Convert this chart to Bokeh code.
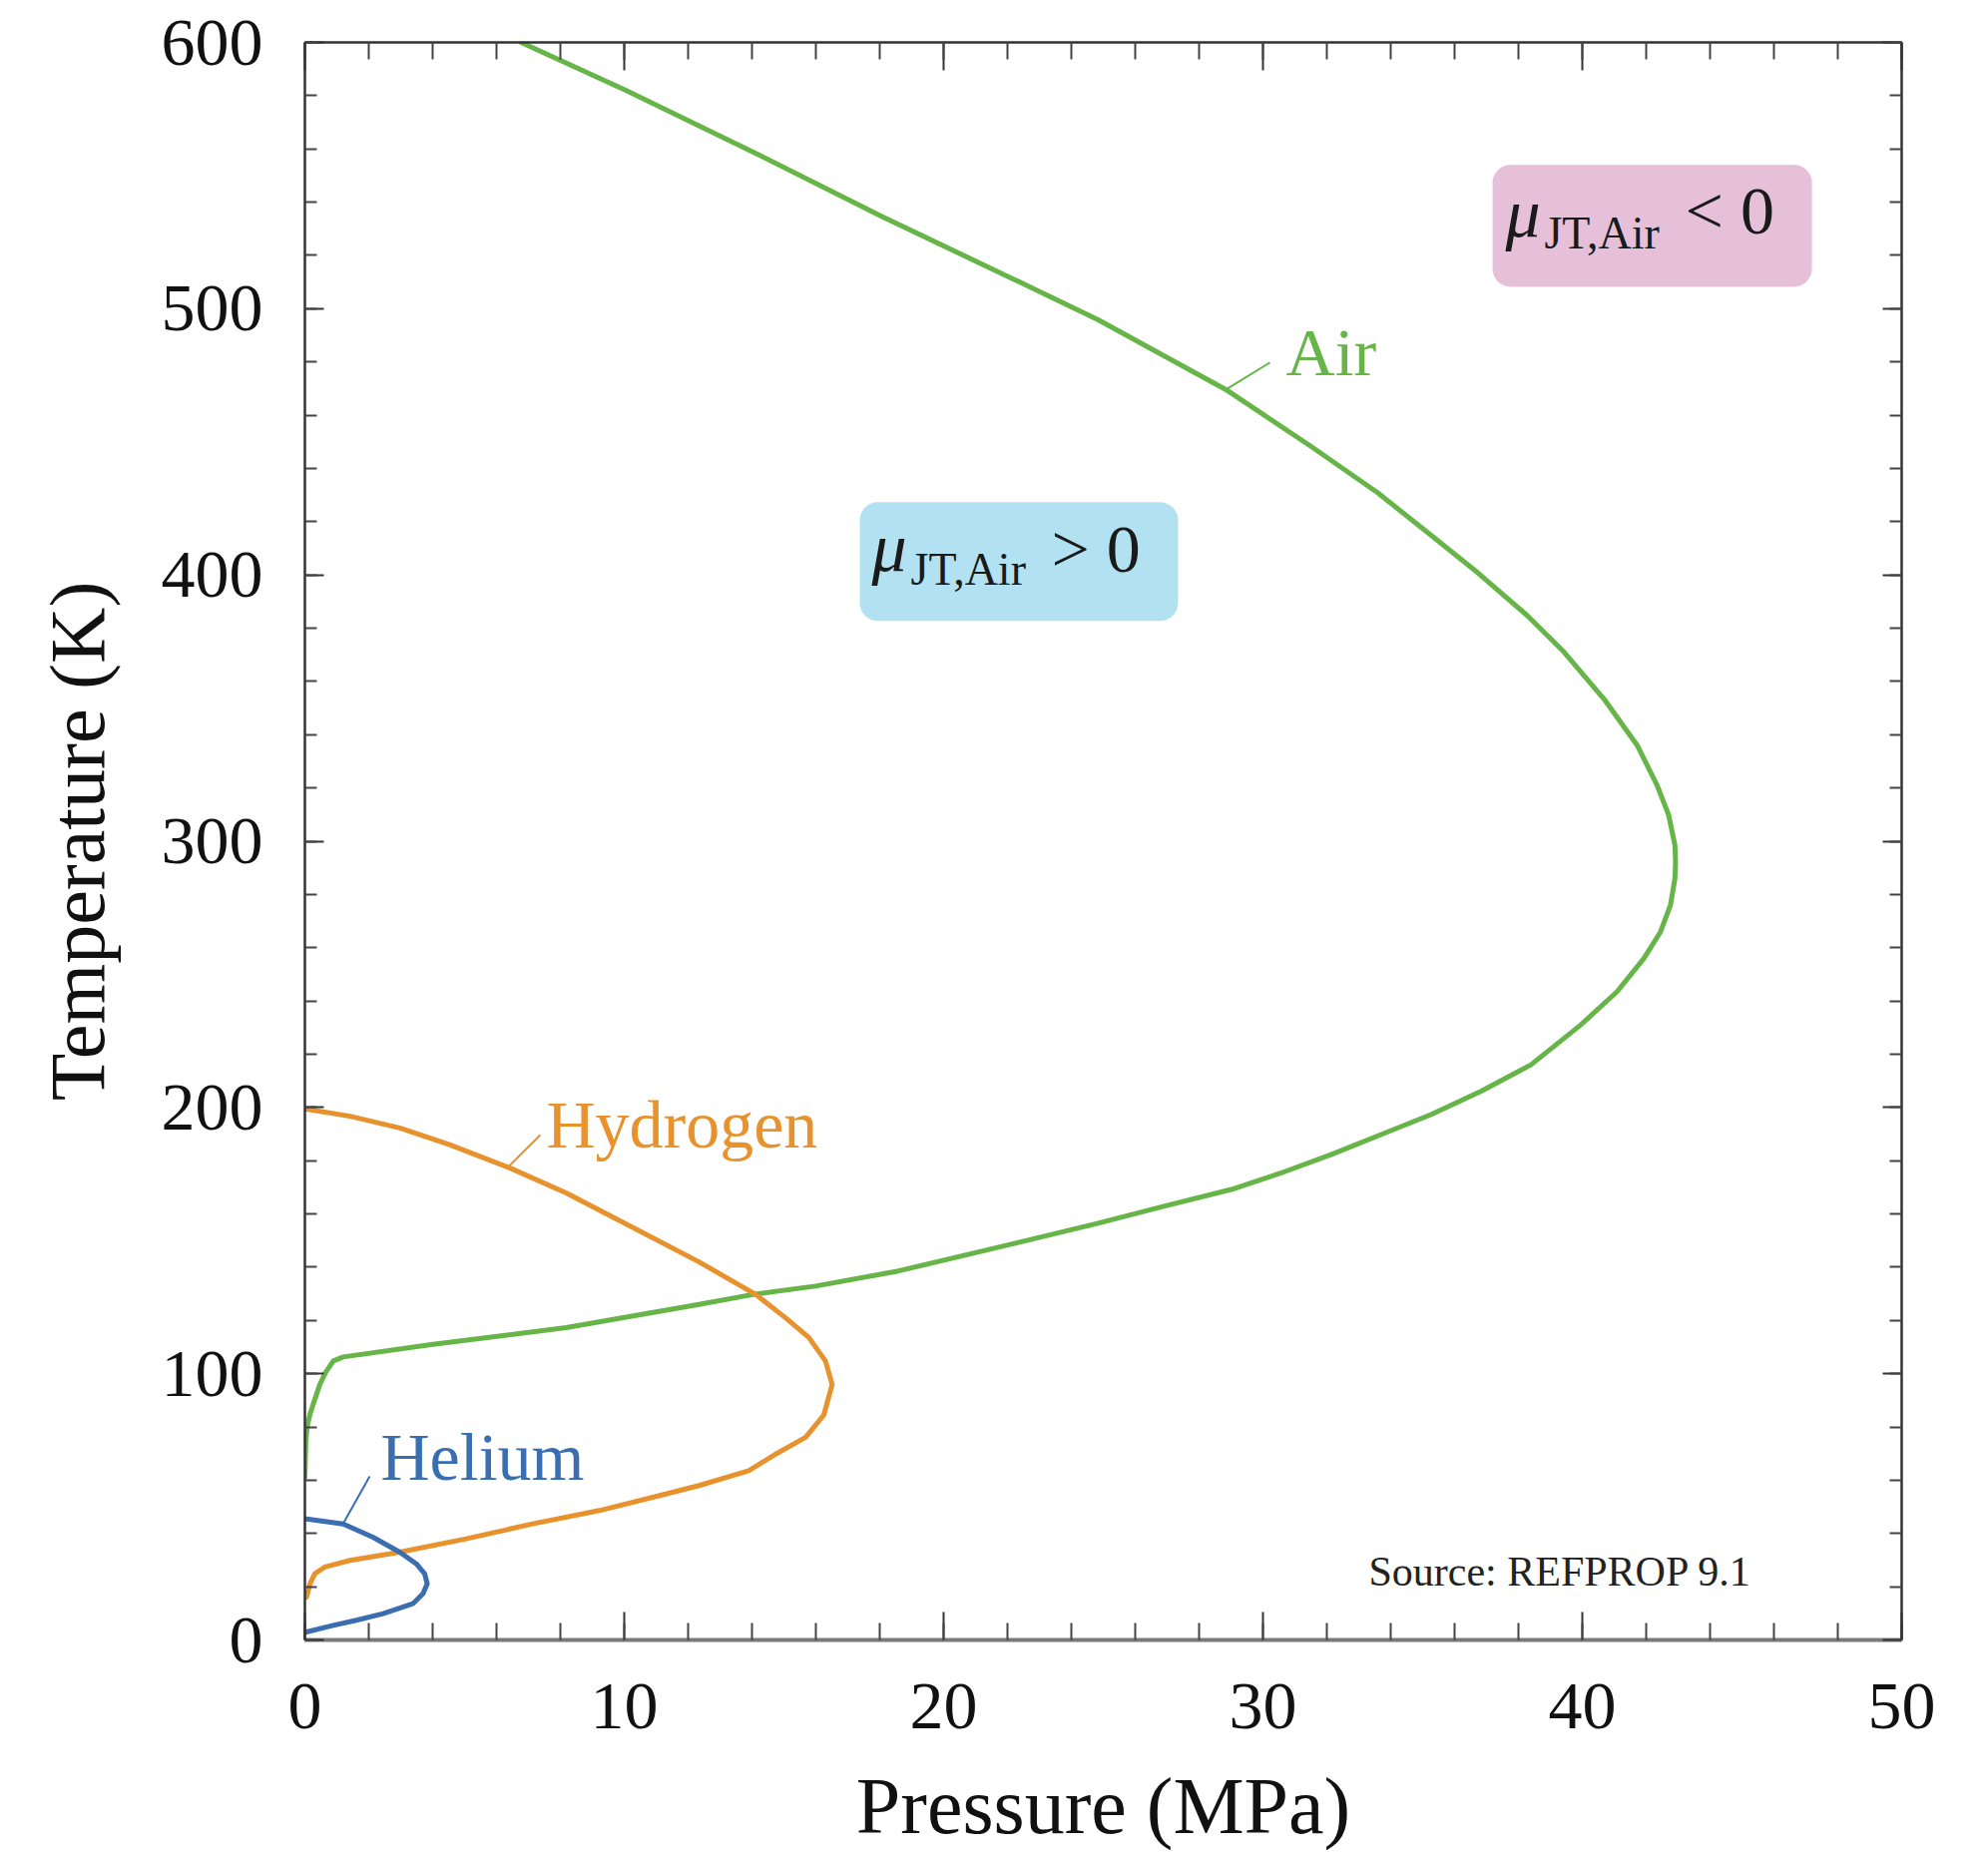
from bokeh.plotting import figure
from bokeh.models import (LinearAxis, SingleIntervalTicker, BoxAnnotation, Range1d,
                          CustomLabelingPolicy)
from bokeh.core.properties import value
from bokeh.embed import file_html
from bokeh.resources import INLINE

# ---- data: pressure in MPa, temperature in K ----
air_p = [6.77, 10.05, 14.01, 18.07, 22.34, 24.84, 28.84, 31.5, 33.59, 35.16, 36.72, 38.28,
         39.43, 40.68, 41.72, 42.34, 42.7, 42.9, 42.92, 42.9, 42.76, 42.45, 41.93, 41.09,
         39.95, 38.39, 36.82, 35.26, 33.7, 32.13, 30.57, 29.01, 26.93, 24.84, 21.2, 18.59,
         15.99, 14.06, 12.34, 8.18, 4.01, 1.2, 0.89, 0.65, 0.47, 0.3, 0.16, 0.07, 0.03, 0.0]
air_t = [600, 582, 559, 534.6, 510.2, 495.8, 469.6, 448.3, 430.9, 415.9, 400.9, 384.7,
         371, 353.4, 336, 321, 310, 298.5, 292, 286, 276, 266, 256, 243.5,
         231, 216, 206, 197.3, 189.8, 182.3, 175.4, 169.2, 163, 156.5, 146, 138.6,
         132.9, 129.8, 126, 117.3, 111, 106.3, 104.8, 100.5, 96, 90, 84.8, 80, 74.8, 61]

h2_p = [0.0, 1.41, 2.97, 4.53, 6.41, 8.18, 10.26, 12.34, 14.11, 15.05, 15.78, 16.3, 16.51,
        16.25, 15.68, 14.7, 13.9, 12.34, 11.3, 9.22, 7.13, 5.05, 2.97, 1.41, 0.625, 0.31,
        0.16, 0.05]
h2_t = [199.5, 196.7, 192.3, 186, 177.3, 167.9, 155, 142, 129.8, 121, 113.6, 104.8, 96,
        84.5, 76.1, 69.5, 63.6, 58, 54.8, 48.6, 43.6, 38, 33, 29.9, 27.4, 24.9,
        21.1, 16.1]

he_p = [0.0, 1.2, 2.13, 2.97, 3.49, 3.75, 3.83, 3.7, 3.38, 2.45, 1.61, 0.89, 0.05]
he_t = [45.5, 43.6, 38.6, 33, 28.6, 24.9, 21.1, 17.4, 13.6, 9.9, 7.4, 5.5, 3.0]

# curve labels: (text, P, T) and leader lines
curve_labels = [("Air", 30.72, 483.5), ("Hydrogen", 7.56, 193.6), ("Helium", 2.375, 68.6)]
leader_air = ([28.84, 30.22], [469.6, 479.8])
leader_h2 = ([6.34, 7.375], [177.3, 189.7])
leader_he = ([1.19, 2.03], [43.5, 61.5])

# region boxes (P left/right, T bottom/top)
pink_box = (37.19, 47.19, 508.2, 554.0)
blue_box = (17.375, 27.34, 382.7, 427.3)

GREEN = "#67b548"
ORANGE = "#e8922e"
BLUE = "#3a6eb1"
FONT = "Liberation Serif"

p = figure(width=1968, height=1857,
           x_range=Range1d(0, 50), y_range=Range1d(0, 600),
           output_backend="svg", toolbar_location=None,
           min_border_left=305, min_border_top=42, min_border_right=63, min_border_bottom=214,
           x_axis_label="Pressure (MPa)", y_axis_label="Temperature (K)")
p.grid.visible = False
p.outline_line_color = None
p.background_fill_color = "white"
p.border_fill_color = "white"

hide_labels = CustomLabelingPolicy(code="for (const i of indices) { indices.unset(i) } return indices")


def style_axis(ax, horizontal, labels=True):
    ax.major_tick_out = 0
    ax.minor_tick_out = 0
    if horizontal:
        ax.major_tick_in = 28
        ax.minor_tick_in = 17
    else:
        ax.major_tick_in = 19
        ax.minor_tick_in = 12
    ax.major_tick_line_color = "#333333"
    ax.major_tick_line_width = 2
    ax.minor_tick_line_color = "#444444"
    ax.minor_tick_line_width = 2
    ax.axis_line_color = "#333333"
    ax.axis_line_width = 2.5
    ax.major_label_text_font = FONT
    ax.major_label_text_color = "#111111"
    ax.major_label_text_font_size = "68px"
    ax.axis_label_text_font = FONT
    ax.axis_label_text_font_style = "normal"
    ax.axis_label_text_color = "#111111"
    ax.axis_label_text_font_size = "78px"
    if not labels:
        ax.major_label_policy = hide_labels
        ax.major_label_text_font_size = "1px"
        ax.major_label_standoff = 0


bx = p.xaxis[0]
bx.ticker = SingleIntervalTicker(interval=10, num_minor_ticks=5)
style_axis(bx, True)
bx.major_label_standoff = 44
bx.axis_label_standoff = 31
bx.axis_label_text_font_size = "80px"
bx.axis_line_color = "#7a7a7a"
bx.axis_line_width = 4

ly = p.yaxis[0]
ly.ticker = SingleIntervalTicker(interval=100, num_minor_ticks=5)
style_axis(ly, False)
ly.major_label_standoff = 42
ly.axis_label_standoff = 38

top = LinearAxis(ticker=SingleIntervalTicker(interval=10, num_minor_ticks=5))
style_axis(top, True, labels=False)
p.add_layout(top, "above")

right = LinearAxis(ticker=SingleIntervalTicker(interval=100, num_minor_ticks=5))
style_axis(right, False, labels=False)
p.add_layout(right, "right")

# region boxes
for (l, r, b, t), col in [(pink_box, "#e6bfd9"), (blue_box, "#b2e2f1")]:
    box = BoxAnnotation(left=l, right=r, bottom=b, top=t, fill_color=col, fill_alpha=1.0,
                        line_alpha=0, border_radius=18, level="underlay")
    p.add_layout(box)

# curves
p.line(air_p, air_t, line_color=GREEN, line_width=5, line_join="round", line_cap="round")
p.line(h2_p, h2_t, line_color=ORANGE, line_width=5, line_join="round", line_cap="round")
p.line(he_p, he_t, line_color=BLUE, line_width=5, line_join="round", line_cap="round")

# leaders
p.line(*leader_air, line_color=GREEN, line_width=2)
p.line(*leader_h2, line_color=ORANGE, line_width=2)
p.line(*leader_he, line_color=BLUE, line_width=2)

for (txt, x, y), col in zip(curve_labels, [GREEN, ORANGE, BLUE]):
    p.text(x=[x], y=[y], text=[txt], text_font=value(FONT), text_font_size="68px",
           text_color=col, text_baseline="alphabetic", text_align="left")

# mu labels
for (mx, my, sx, sy, rx, ry, rel) in [(37.59, 536.0, 38.81, 528.3, 43.22, 536.7, "< 0"),
                                      (17.75, 410.4, 18.97, 402.3, 23.375, 409.7, "> 0")]:
    p.text(x=[mx], y=[my], text=["μ"], text_font=value(FONT), text_font_size="70px",
           text_font_style="italic", text_color="#1a1a1a", text_baseline="alphabetic")
    p.text(x=[sx], y=[sy], text=["JT,Air"], text_font=value(FONT), text_font_size="46px",
           text_color="#1a1a1a", text_baseline="alphabetic")
    p.text(x=[rx], y=[ry], text=[rel], text_font=value(FONT), text_font_size="68px",
           text_color="#1a1a1a", text_baseline="alphabetic")

p.text(x=[33.31], y=[25.7], text=["Source: REFPROP 9.1"], text_font=value(FONT),
       text_font_size="42px", text_color="#222222", text_baseline="alphabetic")

open("out.html", "w").write(file_html(p, INLINE))
